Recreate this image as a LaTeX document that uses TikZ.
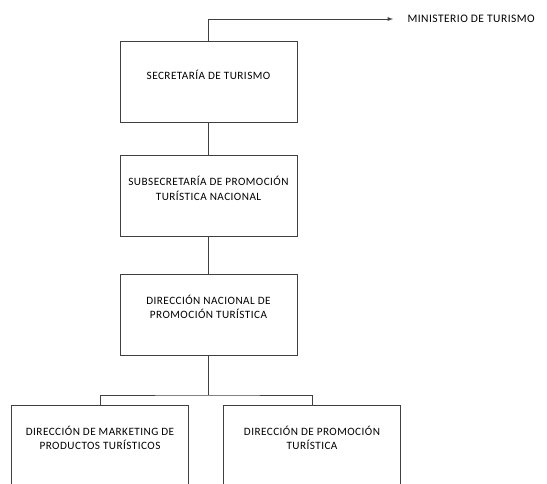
\documentclass[tikz,border=0pt]{standalone}
\usepackage{fontspec}
\setmainfont{Carlito}
\newfontfamily\orgfont[LetterSpace=4]{Carlito}
\tikzset{
  orgbox/.style={draw=black!75, line width=0.9pt, minimum width=177pt,
    minimum height=81pt, align=center, text depth=15pt,
    font=\orgfont\fontsize{11.2}{14.5}\selectfont},
  link/.style={draw=black!75, line width=0.9pt}
}
\begin{document}
\begin{tikzpicture}[x=1pt,y=-1pt]
  \useasboundingbox (0,0) rectangle (547,484);
  \clip (0,0) rectangle (547,484);
  \node[orgbox] (sec)    at (208.5,82)    {SECRETARÍA DE TURISMO};
  \node[orgbox] (subsec) at (208.5,196)   {SUBSECRETARÍA DE PROMOCIÓN\\TURÍSTICA NACIONAL};
  \node[orgbox] (dirnac) at (208.5,314.5) {DIRECCIÓN NACIONAL DE\\PROMOCIÓN TURÍSTICA};
  \node[orgbox] (dirmkt) at (100,445.5)   {DIRECCIÓN DE MARKETING DE\\PRODUCTOS TURÍSTICOS};
  \node[orgbox] (dirpro) at (312,445.5)   {DIRECCIÓN DE PROMOCIÓN\\TURÍSTICA};
  \node[anchor=west, font=\orgfont\fontsize{11.5}{14.5}\selectfont] (min) at (404,19) {MINISTERIO DE TURISMO};
  \coordinate (bus) at (208.5,395);
  \draw[link,-latex,shorten >=11pt] (sec.north) |- (min.west);
  \draw[link] (sec.south) -- (subsec.north);
  \draw[link] (subsec.south) -- (dirnac.north);
  \draw[link] (dirnac.south) -- (bus);
  \draw[link] (dirmkt.north) |- (bus) -| (dirpro.north);
\end{tikzpicture}
\end{document}
